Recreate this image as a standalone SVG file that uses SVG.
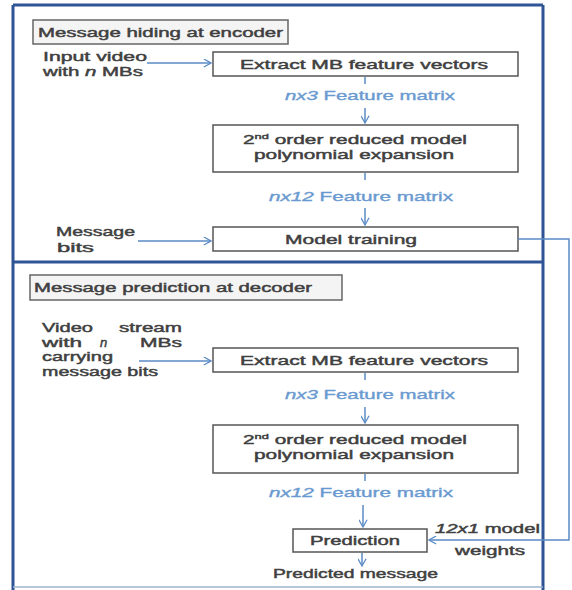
<svg xmlns="http://www.w3.org/2000/svg" width="572" height="590" viewBox="0 0 572 590">
<defs>
<marker id="arr" viewBox="0 0 10 10" refX="9" refY="5" markerWidth="9" markerHeight="9" markerUnits="userSpaceOnUse" orient="auto">
<path d="M1,0.5 L9,5 L1,9.5" fill="none" stroke="#5B8BC6" stroke-width="1.4"/>
</marker>
<style>
.frame{stroke:#2F5496;stroke-width:3;fill:none}
.box{fill:#fff;stroke:#555;stroke-width:1.5}
.tbox{fill:#f4f4f4;stroke:#666;stroke-width:1.5}
.t{font-family:"Liberation Sans",Arial,sans-serif;font-size:13px;fill:#404040;stroke:#404040;stroke-width:0.45}
.b{font-family:"Liberation Sans",Arial,sans-serif;font-size:13px;fill:#6A9AD0;stroke:#6A9AD0;stroke-width:0.35}
.ln{stroke:#5B8BC6;stroke-width:1.5;fill:none}
.i{font-style:italic}
</style>
</defs>
<rect x="0" y="0" width="572" height="590" fill="#fff"/>
<g id="frames">
<line class="frame" x1="13" y1="5" x2="543" y2="5"/>
<line class="frame" x1="13" y1="5" x2="13" y2="590"/>
<line class="frame" x1="543" y1="5" x2="543" y2="590"/>
<line class="frame" x1="13" y1="262" x2="543" y2="262"/>
<line x1="13" y1="587" x2="543" y2="587" stroke="#9FB3CF" stroke-width="1.5"/>
</g>
<g id="title-encoder">
<rect class="tbox" x="33" y="20" width="255" height="24"/>
<text class="t" x="38" y="37" textLength="245" lengthAdjust="spacingAndGlyphs">Message hiding at encoder</text>
</g>
<g id="input-video">
<text class="t" x="43" y="61" textLength="104" lengthAdjust="spacingAndGlyphs">Input video</text>
<text class="t" x="43" y="76" textLength="100" lengthAdjust="spacingAndGlyphs">with <tspan class="i">n</tspan> MBs</text>
</g>
<g id="extract-enc">
<rect class="box" x="213" y="52" width="305" height="24"/>
<text class="t" x="240" y="69" textLength="248" lengthAdjust="spacingAndGlyphs">Extract MB feature vectors</text>
</g>
<g id="label-nx3-enc">
<text class="b" x="285" y="100" textLength="170" lengthAdjust="spacingAndGlyphs"><tspan class="i">nx3</tspan> Feature matrix</text>
</g>
<g id="poly-enc">
<rect class="box" x="213" y="125" width="305" height="47"/>
<text class="t" x="243" y="144" textLength="224" lengthAdjust="spacingAndGlyphs">2<tspan font-size="8" dy="-5">nd</tspan><tspan dy="5"> order reduced model</tspan></text>
<text class="t" x="254" y="159" textLength="200" lengthAdjust="spacingAndGlyphs">polynomial expansion</text>
</g>
<g id="label-nx12-enc">
<text class="b" x="269" y="201" textLength="184" lengthAdjust="spacingAndGlyphs"><tspan class="i">nx12</tspan> Feature matrix</text>
</g>
<g id="message-bits">
<text class="t" x="56" y="236" textLength="79" lengthAdjust="spacingAndGlyphs">Message</text>
<text class="t" x="57" y="252" textLength="37" lengthAdjust="spacingAndGlyphs">bits</text>
</g>
<g id="training">
<rect class="box" x="213" y="227" width="305" height="24"/>
<text class="t" x="285" y="244" textLength="132" lengthAdjust="spacingAndGlyphs">Model training</text>
</g>
<g id="title-decoder">
<rect class="tbox" x="30" y="275" width="312" height="25"/>
<text class="t" x="34" y="292" textLength="278" lengthAdjust="spacingAndGlyphs">Message prediction at decoder</text>
</g>
<g id="video-stream">
<text class="t" x="42" y="332" textLength="51" lengthAdjust="spacingAndGlyphs">Video</text>
<text class="t" x="182" y="332" text-anchor="end" textLength="63" lengthAdjust="spacingAndGlyphs">stream</text>
<text class="t" x="42" y="347" textLength="40" lengthAdjust="spacingAndGlyphs">with</text>
<text class="t i" x="100" y="347">n</text>
<text class="t" x="182" y="347" text-anchor="end" textLength="42" lengthAdjust="spacingAndGlyphs">MBs</text>
<text class="t" x="42" y="361" textLength="71" lengthAdjust="spacingAndGlyphs">carrying</text>
<text class="t" x="42" y="376" textLength="116" lengthAdjust="spacingAndGlyphs">message bits</text>
</g>
<g id="extract-dec">
<rect class="box" x="213" y="348" width="305" height="24"/>
<text class="t" x="240" y="365" textLength="248" lengthAdjust="spacingAndGlyphs">Extract MB feature vectors</text>
</g>
<g id="label-nx3-dec">
<text class="b" x="285" y="399" textLength="170" lengthAdjust="spacingAndGlyphs"><tspan class="i">nx3</tspan> Feature matrix</text>
</g>
<g id="poly-dec">
<rect class="box" x="213" y="425" width="305" height="48"/>
<text class="t" x="243" y="444" textLength="224" lengthAdjust="spacingAndGlyphs">2<tspan font-size="8" dy="-5">nd</tspan><tspan dy="5"> order reduced model</tspan></text>
<text class="t" x="254" y="459" textLength="200" lengthAdjust="spacingAndGlyphs">polynomial expansion</text>
</g>
<g id="label-nx12-dec">
<text class="b" x="269" y="497" textLength="184" lengthAdjust="spacingAndGlyphs"><tspan class="i">nx12</tspan> Feature matrix</text>
</g>
<g id="prediction">
<rect class="box" x="293" y="529" width="134" height="23"/>
<text class="t" x="310" y="545" textLength="90" lengthAdjust="spacingAndGlyphs">Prediction</text>
</g>
<g id="weights-label">
<text class="t" x="435" y="533" textLength="105" lengthAdjust="spacingAndGlyphs"><tspan class="i">12x1</tspan> model</text>
<text class="t" x="455" y="555" textLength="70" lengthAdjust="spacingAndGlyphs">weights</text>
</g>
<g id="predicted-message">
<text class="t" x="273" y="578" textLength="165" lengthAdjust="spacingAndGlyphs">Predicted message</text>
</g>
<g id="connectors">
<line class="ln" x1="147" y1="63" x2="211" y2="63" marker-end="url(#arr)"/>
<line class="ln" x1="365" y1="77" x2="365" y2="84"/>
<line class="ln" x1="365" y1="108" x2="365" y2="123" marker-end="url(#arr)"/>
<line class="ln" x1="365" y1="173" x2="365" y2="180"/>
<line class="ln" x1="365" y1="208" x2="365" y2="225" marker-end="url(#arr)"/>
<line class="ln" x1="138" y1="241" x2="211" y2="241" marker-end="url(#arr)"/>
<line class="ln" x1="139" y1="361" x2="211" y2="361" marker-end="url(#arr)"/>
<line class="ln" x1="365" y1="373" x2="365" y2="380"/>
<line class="ln" x1="365" y1="407" x2="365" y2="423" marker-end="url(#arr)"/>
<line class="ln" x1="365" y1="474" x2="365" y2="481"/>
<line class="ln" x1="363" y1="505" x2="363" y2="527" marker-end="url(#arr)"/>
<line class="ln" x1="362" y1="553" x2="362" y2="566" marker-end="url(#arr)"/>
<polyline class="ln" points="518,239 569,239 569,540 429,540" marker-end="url(#arr)"/>
</g>
</svg>
